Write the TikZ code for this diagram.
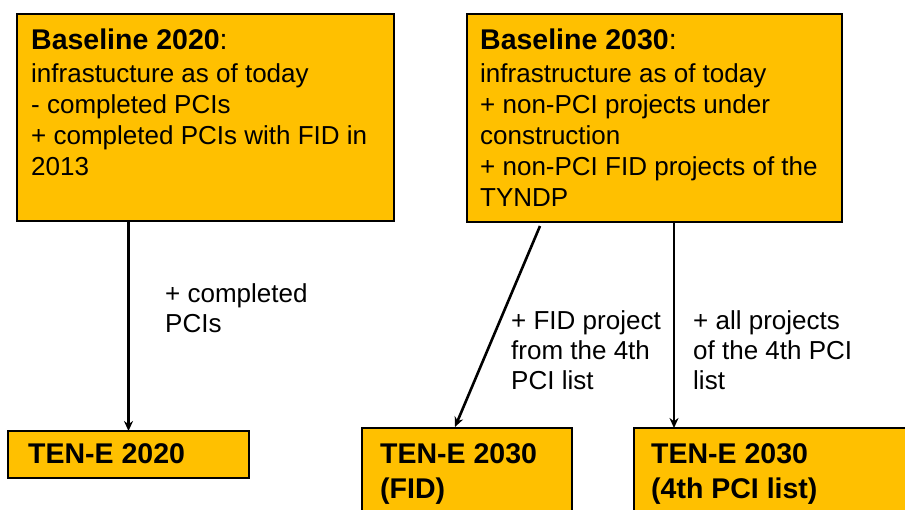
\documentclass[tikz,border=0pt]{standalone}
\usepackage{fontspec}
\setmainfont{Liberation Sans}
\usetikzlibrary{arrows.meta}
\definecolor{boxorange}{RGB}{255,192,0}
\begin{document}
\begin{tikzpicture}[x=1pt,y=-1pt,
  boxnode/.style={draw=black, line width=2pt, fill=boxorange, anchor=north west, inner sep=0pt, outer sep=0pt},
  titletext/.style={anchor=base west, inner sep=0pt, font=\fontsize{28.5}{35}\selectfont\bfseries},
  bottomtext/.style={anchor=north west, inner sep=0pt, align=left, font=\fontsize{28.5}{35}\selectfont\bfseries},
  bodytext/.style={anchor=north west, inner sep=0pt, align=left, font=\fontsize{26}{31}\selectfont},
  labeltext/.style={anchor=north west, inner sep=0pt, align=left, font=\fontsize{26}{30}\selectfont},
  arr/.style={line width=2.6pt, -{Stealth[length=10pt,width=9pt]}}]
\useasboundingbox (0,0) rectangle (905,509);
\clip (0,0) rectangle (905,509);
% boxes
\node[boxnode, minimum width=377pt, minimum height=207pt] (b20) at (17,14) {};
\node[boxnode, minimum width=375pt, minimum height=208pt] (b30) at (467,14) {};
\node[boxnode, minimum width=241pt, minimum height=47pt] (t20) at (8,431) {};
\node[boxnode, minimum width=210pt, minimum height=110pt] (t30f) at (362,428) {};
\node[boxnode, minimum width=300pt, minimum height=110pt] (t30p) at (634,428) {};
% box texts
\node[titletext] (b20title) at (31,49) {Baseline 2020\mdseries:};
\node[bodytext] (b20body) at (31,63) {infrastucture as of today\\- completed PCIs\\+ completed PCIs with FID in\\2013};
\node[titletext] (b30title) at (480,49) {Baseline 2030\mdseries:};
\node[bodytext] (b30body) at (480,63) {infrastructure as of today\\+ non-PCI projects under\\construction\\+ non-PCI FID projects of the\\TYNDP};
\node[titletext] (t20text) at (28,463) {TEN-E 2020};
\node[bottomtext] (t30ftext) at (380,443) {TEN-E 2030\\(FID)};
\node[bottomtext] (t30ptext) at (651,443) {TEN-E 2030\\(4th PCI list)};
% arrow labels
\node[labeltext] (l1) at (165,283) {+ completed\\PCIs};
\node[labeltext] (l2) at (511,310) {+ FID project\\from the 4th\\PCI list};
\node[labeltext] (l3) at (693,310) {+ all projects\\of the 4th PCI\\list};
% connectors
\coordinate (a2s) at (540,226);
\coordinate (a2e) at (455,427);
\coordinate (a3x) at (674,0);
\draw[arr] (t20.north |- b20.south) -- (t20.north);
\draw[arr] (a2s) -- (a2e);
\draw[arr] (b30.south -| a3x) -- (t30p.north -| a3x);
\end{tikzpicture}
\end{document}
